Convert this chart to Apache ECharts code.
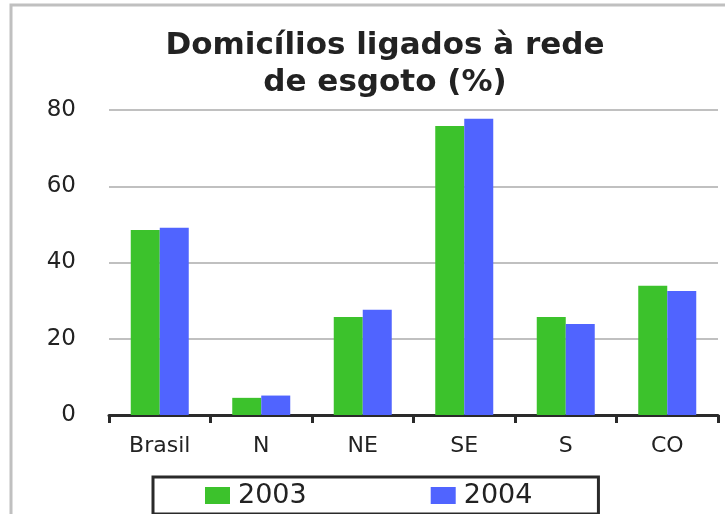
<!DOCTYPE html>
<html>
<head>
<meta charset="utf-8">
<script src="https://cdn.jsdelivr.net/npm/echarts@6/dist/echarts.min.js"></script>
<style>
    html, body { margin: 0; padding: 0; background: #fff; }
    #chart { width: 725px; height: 514px; }
</style>
</head>
<body>
<div id="chart"></div>
<script>
    var categories = ['Brasil', 'N', 'NE', 'SE', 'S', 'CO'];
    var seriesNames = ['2003', '2004'];
    var values2003 = [48.5, 4.5, 25.7, 75.8, 25.7, 33.9];
    var values2004 = [49.1, 5.1, 27.6, 77.7, 23.9, 32.5];
    var yTicks = { min: 0, max: 80, interval: 20 };

    var font = 'DejaVu Sans';
    var myChart = echarts.init(document.getElementById('chart'));

    var option = {
        backgroundColor: '#fff',
        animation: false,
        title: {
            text: 'Domicílios ligados à rede\nde esgoto (%)',
            left: 380,
            top: 22,
            textAlign: 'center',
            textStyle: {
                fontFamily: font,
                fontWeight: 'bold',
                fontSize: 31,
                lineHeight: 37,
                color: '#222'
            }
        },
        // moldura cinza em volta do grafico
        graphic: [{
            type: 'rect',
            shape: { x: 11, y: 5, width: 800, height: 600 },
            style: { fill: 'none', stroke: '#c0c0c0', lineWidth: 3 },
            silent: true
        }],
        legend: {
            data: seriesNames,
            left: 153,
            top: 477,
            orient: 'horizontal',
            itemWidth: 25,
            itemHeight: 17,
            itemGap: 124,
            padding: [5, 66, 5, 52],
            borderColor: '#2a2a2a',
            borderWidth: 3,
            icon: 'rect',
            textStyle: { fontFamily: font, fontSize: 27, color: '#222', padding: [0, 0, 0, 3] }
        },
        grid: {
            left: 109,
            right: 7,
            top: 110,
            bottom: 99,
            containLabel: false
        },
        xAxis: {
            type: 'category',
            data: categories,
            axisLine: { lineStyle: { color: '#2a2a2a', width: 3 } },
            axisTick: { show: true, length: 8, lineStyle: { color: '#2a2a2a', width: 3 } },
            axisLabel: { fontFamily: font, fontSize: 22, color: '#222', margin: 20 }
        },
        yAxis: {
            type: 'value',
            min: yTicks.min,
            max: yTicks.max,
            interval: yTicks.interval,
            axisLine: { show: false },
            axisTick: { show: false },
            splitLine: { lineStyle: { color: '#c0c0c0', width: 2 } },
            axisLabel: { fontFamily: font, fontSize: 23, color: '#222', margin: 33 }
        },
        series: [
            {
                name: seriesNames[0],
                type: 'bar',
                data: values2003,
                barWidth: 29,
                barGap: '0%',
                itemStyle: { color: '#3cc22c' }
            },
            {
                name: seriesNames[1],
                type: 'bar',
                data: values2004,
                barWidth: 29,
                barGap: '0%',
                itemStyle: { color: '#5064ff' }
            }
        ]
    };
    myChart.setOption(option);
</script>
</body>
</html>
